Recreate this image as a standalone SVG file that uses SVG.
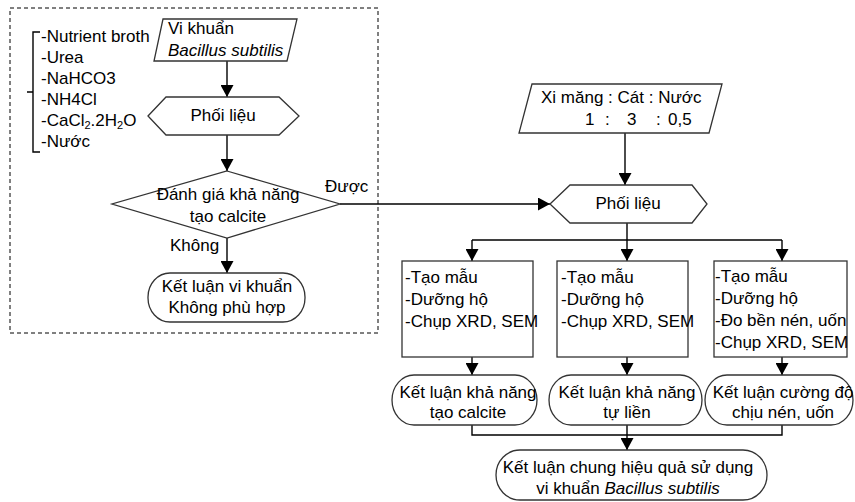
<svg xmlns="http://www.w3.org/2000/svg" width="855" height="502" viewBox="0 0 855 502">
<defs>
<style>
text{font-family:"Liberation Sans",Arial,sans-serif;font-size:17px;fill:#000;}
.c{text-anchor:middle;}
.i{font-style:italic;}
.shape{fill:#fff;stroke:#333;stroke-width:1.3;}
.line{fill:none;stroke:#000;stroke-width:1.4;}
.arr{fill:none;stroke:#000;stroke-width:1.4;marker-end:url(#ah);}
.dash{fill:none;stroke:#000;stroke-width:1;stroke-dasharray:4 3;}
</style>
<marker id="ah" markerUnits="userSpaceOnUse" markerWidth="13" markerHeight="13" refX="12" refY="6.5" orient="auto">
<path d="M0,0 L12,6.5 L0,13 z" fill="#000"/>
</marker>
</defs>
<rect width="855" height="502" fill="#fff"/>

<g id="group-box">
<rect class="dash" x="10" y="8" width="368" height="325"/>
</g>

<g id="connectors">
<path class="arr" d="M227,61 V97"/>
<path class="arr" d="M227,135 V171"/>
<path class="arr" d="M227,238 V273"/>
<path class="arr" d="M340,204 H550"/>
<path class="arr" d="M625,133 V185"/>
<path class="line" d="M627,223 V240 M472,240 H782"/>
<path class="arr" d="M472,240 V261"/>
<path class="arr" d="M627,240 V261"/>
<path class="arr" d="M782,240 V261"/>
<path class="arr" d="M472,357 V375"/>
<path class="arr" d="M627,357 V375"/>
<path class="arr" d="M782,357 V375"/>
<path class="line" d="M472,425 V435 H782 V425 M627,425 V435"/>
<path class="arr" d="M627,435 V450"/>
<text x="325" y="192">Được</text>
<text x="170" y="251">Không</text>
</g>

<g id="materials">
<path class="line" d="M40,32 H33 V152 H40 M33,92 H27" stroke-width="1"/>
<text x="41" y="42">-Nutrient broth</text>
<text x="41" y="63">-Urea</text>
<text x="41" y="84">-NaHCO3</text>
<text x="41" y="105">-NH4Cl</text>
<text x="41" y="126">-CaCl<tspan font-size="11" dy="3">2</tspan><tspan dy="-3">.2H</tspan><tspan font-size="11" dy="3">2</tspan><tspan dy="-3">O</tspan></text>
<text x="41" y="147">-Nước</text>
</g>

<g id="bacteria">
<polygon class="shape" points="163,19 297,19 287,61 154,61"/>
<text x="168" y="34">Vi khuẩn</text>
<text x="168" y="56" class="i">Bacillus subtilis</text>
</g>

<g id="mix1">
<polygon class="shape" points="148,116 166,97 279,97 299,116 279,135 166,135"/>
<text x="223" y="121" class="c">Phối liệu</text>
</g>

<g id="decision">
<polygon class="shape" points="227,171 340,204 227,238 112,204"/>
<text x="228" y="200" class="c">Đánh giá khả năng</text>
<text x="228" y="222" class="c">tạo calcite</text>
</g>

<g id="reject">
<rect class="shape" x="148" y="273" width="157" height="49" rx="22" ry="24"/>
<text x="227" y="292" class="c">Kết luận vi khuẩn</text>
<text x="227" y="313" class="c">Không phù hợp</text>
</g>

<g id="ratio">
<polygon class="shape" points="532,84 722,84 709,133 519,133"/>
<text x="541" y="103">Xi măng : Cát : Nước</text>
<text y="125"><tspan x="585">1</tspan><tspan x="605">:</tspan><tspan x="627">3</tspan><tspan x="656">:</tspan><tspan x="668">0,5</tspan></text>
</g>

<g id="mix2">
<polygon class="shape" points="550,204 570,185 692,185 707,204 692,223 570,223"/>
<text x="628" y="209" class="c">Phối liệu</text>
</g>

<g id="test1">
<rect class="shape" x="402" y="261" width="131" height="96"/>
<text x="405" y="283">-Tạo mẫu</text>
<text x="405" y="305">-Dưỡng hộ</text>
<text x="405" y="327">-Chụp XRD, SEM</text>
</g>

<g id="test2">
<rect class="shape" x="557" y="261" width="131" height="96"/>
<text x="561" y="283">-Tạo mẫu</text>
<text x="561" y="305">-Dưỡng hộ</text>
<text x="561" y="327">-Chụp XRD, SEM</text>
</g>

<g id="test3">
<rect class="shape" x="714" y="261" width="133" height="96"/>
<text x="715" y="282">-Tạo mẫu</text>
<text x="715" y="304">-Dưỡng hộ</text>
<text x="715" y="326">-Đo bền nén, uốn</text>
<text x="715" y="348">-Chụp XRD, SEM</text>
</g>

<g id="result1">
<rect class="shape" x="392" y="375" width="145" height="50" rx="22" ry="25"/>
<text x="468" y="398" class="c">Kết luận khả năng</text>
<text x="468" y="418" class="c">tạo calcite</text>
</g>

<g id="result2">
<rect class="shape" x="549" y="375" width="153" height="50" rx="22" ry="25"/>
<text x="627" y="398" class="c">Kết luận khả năng</text>
<text x="627" y="418" class="c">tự liền</text>
</g>

<g id="result3">
<rect class="shape" x="705" y="375" width="148" height="50" rx="22" ry="25"/>
<text x="783" y="398" class="c">Kết luận cường độ</text>
<text x="783" y="418" class="c">chịu nén, uốn</text>
</g>

<g id="final">
<rect class="shape" x="496" y="450" width="271" height="50" rx="24" ry="25"/>
<text x="628" y="473" class="c">Kết luận chung hiệu quả sử dụng</text>
<text x="628" y="494" class="c">vi khuẩn <tspan class="i">Bacillus subtilis</tspan></text>
</g>
</svg>
